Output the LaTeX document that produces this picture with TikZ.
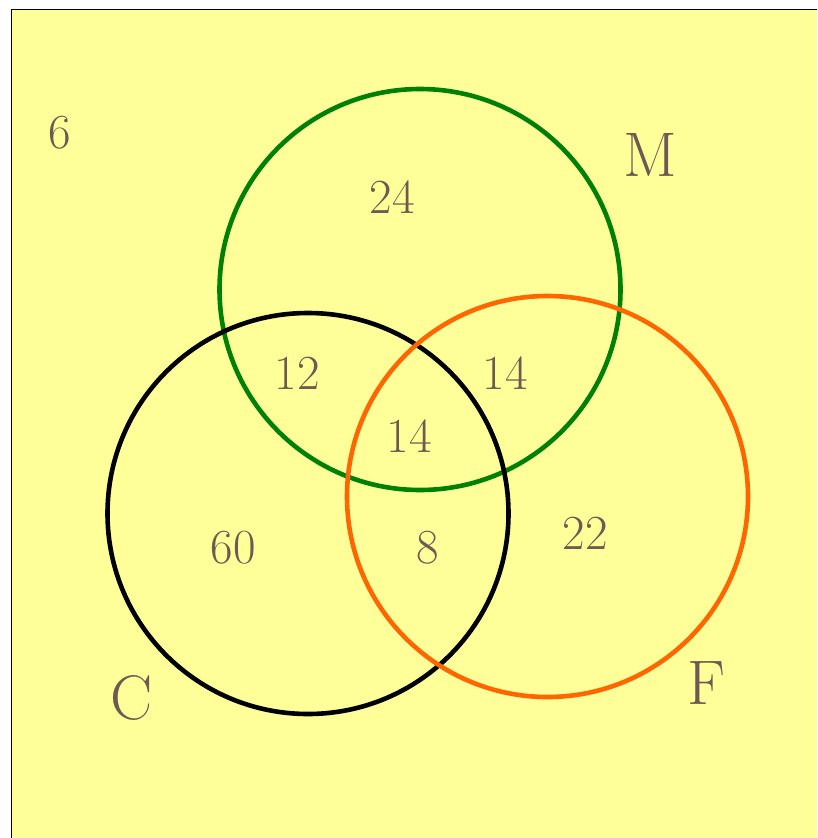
\documentclass[tikz,border=0pt]{standalone}
\usepackage{tikz}
\definecolor{vennbg}{HTML}{FFFF99}
\definecolor{venntext}{HTML}{6E5A52}
\definecolor{venngreen}{HTML}{008000}
\definecolor{vennorange}{HTML}{FF6600}
\begin{document}
\begin{tikzpicture}[x=1pt,y=-1pt,
  count/.style={inner sep=0pt,text=venntext,font=\fontsize{49}{52}\selectfont},
  setname/.style={inner sep=0pt,text=venntext,font=\fontsize{63}{66}\selectfont},
  ring/.style={line width=4.6pt}]
\useasboundingbox (0,0) rectangle (817,838);
\clip (0,0) rectangle (817,838);
\fill[white] (0,0) rectangle (817,838);
\draw[fill=vennbg,line width=1.7pt] (11.5,9.5) rectangle (840,860);
% the three sets
\draw[ring,venngreen] (420,289.5) circle (200.5);
\draw[ring,black] (308,513.5) circle (200.5);
\draw[ring,vennorange] (547.5,496.5) circle (200.5);
% set names
\node[setname] (nameM) at (650,155) {M};
\node[setname] (nameC) at (132,698) {C};
\node[setname] (nameF) at (706,683) {F};
% region counts
\node[count] (out) at (60,133) {6};
\node[count] (onlyM) at (392,197) {24};
\node[count] (CM) at (297,373) {12};
\node[count] (MF) at (505,373) {14};
\node[count] (CMF) at (409,436) {14};
\node[count] (onlyC) at (233,548) {60};
\node[count] (CF) at (428,548) {8};
\node[count] (onlyF) at (585,533) {22};
\end{tikzpicture}
\end{document}
